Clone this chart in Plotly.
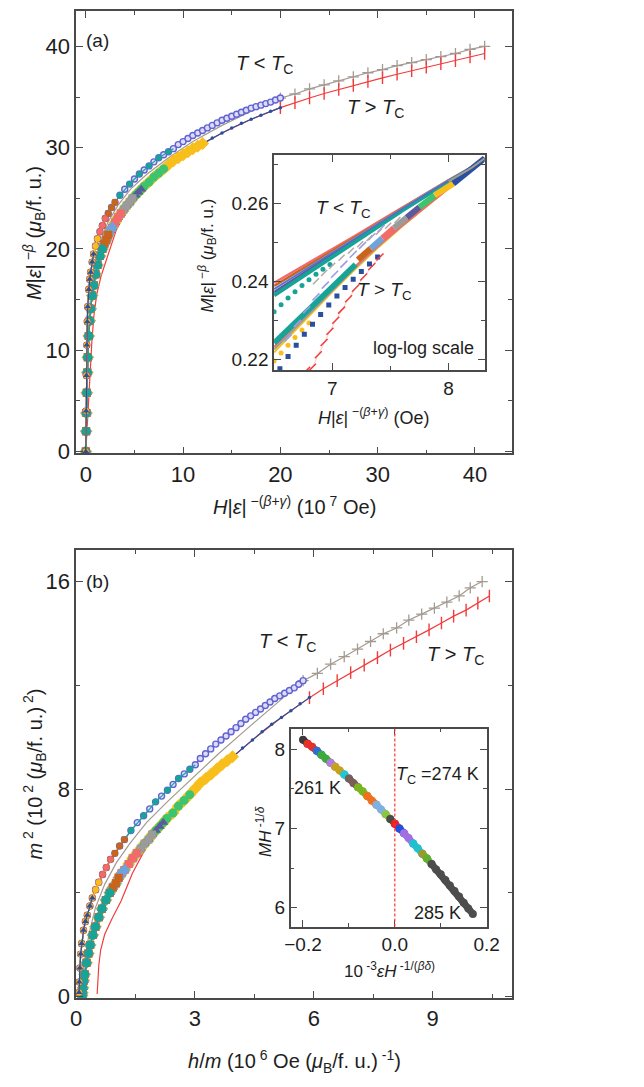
import plotly.graph_objects as go

W, H = 644, 1087
FONT = "Arial, Liberation Sans, sans-serif"
INK = "#1e1e1e"
AXC = "#4a4a4a"

# ---------------- Panel (a): M|e|^-beta vs H|e|^-(beta+gamma) (10^7 Oe) ----------------
# T < Tc branch (low/intermediate field part)
UP_X = [0, 0.03, 0.06, 0.1, 0.15, 0.2, 0.3, 0.4, 0.5, 0.65, 0.8, 1.0, 1.2, 1.45, 1.7, 2.0, 2.3, 2.65, 3.0, 3.5,
        4.0, 4.5, 5.0, 5.5, 6.0, 6.5, 7.0, 7.5, 8.0, 8.5, 9.0, 9.5, 10.0, 10.5, 11.0, 11.5, 12.0, 12.5, 13.0,
        13.5, 14.0, 14.5, 15.0, 15.5, 16.0, 16.5, 17.0, 17.5, 18.0, 18.5, 19.0, 19.5, 20.0]
UP_Y = [0, 4.0, 7.5, 10.5, 12.8, 14.3, 16.0, 17.0, 17.7, 18.7, 19.5, 20.3, 21.0, 21.7, 22.3, 23.0, 23.5, 24.1, 24.6, 25.3,
        25.9, 26.4, 26.9, 27.4, 27.8, 28.2, 28.6, 29.0, 29.3, 29.6, 29.9, 30.3, 30.6, 30.9, 31.2, 31.45, 31.7, 31.95, 32.2,
        32.45, 32.7, 32.9, 33.1, 33.3, 33.5, 33.7, 33.9, 34.05, 34.2, 34.35, 34.5, 34.7, 34.9]
# T > Tc branch
LOW_X = [0, 0.03, 0.06, 0.1, 0.15, 0.2, 0.3, 0.4, 0.5, 0.65, 0.8, 1.0, 1.2, 1.45, 1.7, 1.9, 2.1, 2.3, 2.5, 2.7,
         3.0, 3.3, 3.6, 3.9, 4.2, 4.5, 4.8, 5.1, 5.4, 5.7, 6.0, 6.5, 7.0, 7.5, 8.0, 8.5, 9.0, 9.5, 10.0, 10.5,
         11.0, 11.5, 12.0, 13, 14, 15, 16, 17, 18, 19, 20]
LOW_Y = [0, 2.0, 3.8, 5.8, 7.8, 9.3, 11.4, 12.9, 14.1, 15.4, 16.4, 17.5, 18.4, 19.3, 20.0, 20.5, 20.9, 21.4, 21.8, 22.1,
         22.6, 23.1, 23.5, 23.9, 24.3, 24.6, 25.0, 25.3, 25.6, 25.9, 26.2, 26.6, 27.1, 27.5, 27.9, 28.3, 28.7, 29.0, 29.3, 29.6,
         29.9, 30.15, 30.4, 30.95, 31.45, 31.95, 32.4, 32.8, 33.2, 33.6, 33.95]
# high-field part (only the two temperatures nearest Tc)
HI_X = [20, 21.5, 23, 24.5, 26, 27.5, 29, 30.5, 32, 33.5, 35, 36.5, 38, 39.5, 41]
HI_UP_Y = [34.9, 35.3, 35.8, 36.2, 36.6, 37.0, 37.4, 37.7, 38.1, 38.4, 38.7, 39.0, 39.3, 39.7, 40.0]
HI_LOW_Y = [33.95, 34.45, 34.9, 35.35, 35.75, 36.15, 36.55, 36.9, 37.25, 37.6, 37.95, 38.3, 38.6, 38.95, 39.3]
# low-field parts of those two temperatures
GRAY_LOW_X = [0, 0.1, 0.25, 0.5, 0.9, 1.5, 2.3, 3.3, 4.6, 6.3, 8.5, 11, 14, 17]
GRAY_LOW_Y = [0, 6.5, 11.5, 15.5, 18.5, 20.8, 22.7, 24.3, 25.9, 27.4, 29.0, 30.6, 32.2, 33.6]
RED_LOW_X = [0, 0.17, 0.43, 0.63, 0.83, 1.12, 1.56, 2.18, 3.1, 4.25, 5.9, 8.1, 10.8, 14.0, 17.0]
RED_LOW_Y = [0, 3.2, 7.8, 11.0, 13.4, 15.5, 17.3, 19.2, 21.8, 24.0, 25.95, 27.9, 29.7, 31.45, 32.8]

# field reach of every other temperature on its branch (10^7 Oe)
UP_TEMPS = ["271 K", "269 K", "267 K", "265 K", "263 K", "261 K"]
UP_XMAX = [20, 9, 3.0, 2.0, 1.2, 0.8]
LOW_TEMPS = ["276 K", "277 K", "278 K", "279 K", "280 K", "281 K", "282 K", "283 K", "285 K"]
LOW_XMAX = [20, 12, 8, 5.9, 4.8, 3.6, 2.8, 2.4, 1.8]

# ---------------- Inset (a): log-log ----------------
IA_X = [6.5, 6.8, 7.0, 7.2, 7.4, 7.6, 7.8, 8.0, 8.2, 8.31]
IA_UP = {
    "salmon": [0.2396, 0.2447, 0.2482, 0.2517, 0.2553, 0.2589, 0.2624, 0.2659, 0.2693, 0.2715],
    "orange": [0.2388, 0.2441, 0.2477, 0.2513, 0.2550, 0.2587, 0.2623, 0.2658, 0.2692, 0.2715],
    "lblue": [0.2380, 0.2435, 0.2473, 0.2510, 0.2548, 0.2586, 0.2622, 0.2657, 0.2692, 0.2715],
    "purple": [0.2372, 0.2429, 0.2468, 0.2506, 0.2545, 0.2584, 0.2621, 0.2656, 0.2691, 0.2715],
    "teal": [0.2364, 0.2422, 0.2462, 0.2501, 0.2541, 0.2581, 0.2619, 0.2655, 0.2690, 0.2715],
}
IA_LOW = {
    "yellow": [0.2218, 0.2311, 0.2373, 0.2432, 0.2488, 0.2540, 0.2589, 0.2638, 0.2684, 0.2715],
    "gray": [0.2226, 0.2317, 0.2378, 0.2436, 0.2491, 0.2542, 0.2590, 0.2639, 0.2685, 0.2715],
    "salmon": [0.2232, 0.2322, 0.2382, 0.2439, 0.2493, 0.2543, 0.2591, 0.2639, 0.2685, 0.2715],
    "teal": [0.2242, 0.2330, 0.2388, 0.2443, 0.2496, 0.2545, 0.2592, 0.2640, 0.2685, 0.2715],
}
IA_TAIL_X = [7.22, 7.33, 7.43, 7.53, 7.64, 7.75, 7.88, 8.04, 8.31]
IA_TAIL_Y = [0.2455, 0.2484, 0.2510, 0.2536, 0.2563, 0.2590, 0.2620, 0.2650, 0.2715]
IA_TEALDOT_X = [6.5, 6.56, 6.62, 6.68, 6.74, 6.8, 6.86, 6.92, 6.98]
IA_TEALDOT_Y = [0.2322, 0.2340, 0.2357, 0.2373, 0.2389, 0.2404, 0.2418, 0.2431, 0.2443]
IA_LAV_X = [6.62, 6.7, 6.78, 6.86, 6.94, 7.02, 7.1, 7.18, 7.26, 7.34, 7.42]
IA_LAV_Y = [0.2255, 0.2292, 0.2327, 0.2360, 0.2390, 0.2418, 0.2444, 0.2469, 0.2492, 0.2514, 0.2535]
IA_GRAYD_X = [6.86, 6.93, 7.0, 7.08, 7.16, 7.24, 7.32, 7.40, 7.48, 7.56]
IA_GRAYD_Y = [0.2400, 0.2421, 0.2440, 0.2460, 0.2478, 0.2495, 0.2511, 0.2527, 0.2542, 0.2557]
IA_YDOT_X = [6.5, 6.56, 6.62, 6.68, 6.74, 6.8]
IA_YDOT_Y = [0.2196, 0.2216, 0.2236, 0.2256, 0.2275, 0.2293]
IA_NAVY_X = [6.55, 6.62, 6.69, 6.76, 6.83, 6.9, 6.97, 7.04, 7.11, 7.18, 7.25, 7.32, 7.39]
IA_NAVY_Y = [0.2176, 0.2207, 0.2236, 0.2264, 0.2290, 0.2315, 0.2339, 0.2362, 0.2384, 0.2405, 0.2425, 0.2444, 0.2462]
IA_RED_X = [6.78, 6.83, 6.88, 6.93, 6.98, 7.03, 7.08, 7.14, 7.2, 7.27, 7.34, 7.41]
IA_RED_Y = [0.2172, 0.2180, 0.2212, 0.2243, 0.2272, 0.2300, 0.2326, 0.2355, 0.2382, 0.2411, 0.2438, 0.2462]

# ---------------- Inset (b): MH^-1/delta vs eps H^-1/(beta delta) ----------------
IB_X = [-0.20, -0.19, -0.18, -0.17, -0.16, -0.15, -0.14, -0.13, -0.12, -0.11, -0.10, -0.09, -0.08, -0.07,
        -0.06, -0.05, -0.04, -0.03, -0.02, -0.01, 0.00, 0.01, 0.02, 0.03, 0.04, 0.05, 0.06, 0.07, 0.08,
        0.09, 0.10, 0.11, 0.12, 0.13, 0.14, 0.15, 0.16, 0.17]
IB_Y = [8.12, 8.07, 8.03, 7.98, 7.93, 7.88, 7.83, 7.78, 7.73, 7.68, 7.63, 7.57, 7.52, 7.47,
        7.41, 7.35, 7.30, 7.24, 7.18, 7.12, 7.06, 7.00, 6.94, 6.88, 6.81, 6.75, 6.68, 6.62, 6.55,
        6.48, 6.42, 6.35, 6.28, 6.21, 6.14, 6.06, 5.99, 5.92]
IB_SEG_START = [0, 1, 3, 4, 6, 7, 9, 10, 12, 14, 16, 18, 19, 20, 21, 22, 24, 26, 27, 28]
IB_SEG_END = [1, 3, 4, 6, 7, 9, 10, 12, 14, 16, 18, 19, 20, 21, 22, 24, 26, 27, 28, 37]
IB_SEG_COLOR = ["#3a3a3a", "#e8302a", "#2a6fd6", "#3cab3c", "#b07ce0", "#c8a020", "#19c9d9", "#7a5c58",
                "#7ab51d", "#f07020", "#80b0e0", "#8cc63f", "#4a4a4a", "#ee2222", "#2050e0", "#a070e0",
                "#20c0d0", "#9a9a30", "#60b030", "#4d4d4d"]

# ---------------- styles ----------------
C = dict(gray="#a39a92", red="#f23c3c", circ="#6262d2", circfill="#dcdcf7", teal="#17a398",
         orange="#c8651b", salmon="#f46a6a", yellow="#f7be1c", navy="#2a4f9e", green="#3cc46e",
         purple="#5b5b9c", mgray="#9b9b9b", lblue="#6fa3dc")
UP_STYLE = [dict(color=C["circ"], symbol="circle", size=6, fill=C["circfill"], step=1, off=0, lw=1.4),
            dict(color=C["teal"], symbol="circle", size=6, step=2, off=1),
            dict(color=C["orange"], symbol="square", size=6, step=1, off=0),
            dict(color=C["salmon"], symbol="diamond", size=6, step=1, off=0),
            dict(color=C["yellow"], symbol="circle", size=6, step=1, off=0),
            dict(color=C["navy"], symbol="triangle-up", size=6, step=1, off=0)]
LOW_STYLE = [dict(color=C["navy"], symbol="circle", size=3.5),
             dict(color=C["yellow"], symbol="diamond", size=10),
             dict(color=C["green"], symbol="circle", size=9),
             dict(color=C["purple"], symbol="triangle-up", size=9),
             dict(color=C["mgray"], symbol="square", size=8),
             dict(color=C["salmon"], symbol="square", size=8),
             dict(color=C["lblue"], symbol="diamond", size=9),
             dict(color=C["orange"], symbol="square", size=8),
             dict(color=C["teal"], symbol="circle", size=9)]

fig = go.Figure()


def to_b(xa, ya):
    xb, yb = [], []
    for x, y in zip(xa, ya):
        if y > 0:
            xb.append(10.0 * x / y)
            yb.append((y / 10.0) ** 2)
    return xb, yb


def add(xs, ys, panel, **kw):
    if panel == "b":
        xs, ys = to_b(xs, ys)
        kw.update(xaxis="x3", yaxis="y3")
    else:
        kw.update(xaxis="x", yaxis="y")
    fig.add_trace(go.Scatter(x=xs, y=ys, showlegend=False, hoverinfo="skip", **kw))


def pick(xs, ys, xmax, step=1, off=0):
    idx = [i for i, x in enumerate(xs) if x <= xmax + 1e-9]
    return [xs[i] for i in idx], [ys[i] for i in idx], [xs[i] for i in idx[off::step]], [ys[i] for i in idx[off::step]]


for panel in ("a", "b"):
    # T < Tc nearest Tc (gray +)
    add(GRAY_LOW_X + HI_X, GRAY_LOW_Y + HI_UP_Y, panel, mode="lines", line=dict(color=C["gray"], width=1.2))
    add(HI_X, HI_UP_Y, panel, mode="markers",
        marker=dict(symbol="cross-thin", size=8, line=dict(color=C["gray"], width=1.3)))
    # T > Tc nearest Tc (red |)
    add(RED_LOW_X + HI_X, RED_LOW_Y + HI_LOW_Y, panel, mode="lines", line=dict(color=C["red"], width=1.2))
    add(HI_X, HI_LOW_Y, panel, mode="markers",
        marker=dict(symbol="line-ns", size=9, line=dict(color=C["red"], width=1.4)))
    # other T > Tc curves
    for xm, st in zip(LOW_XMAX, LOW_STYLE):
        lx, ly, mx, my = pick(LOW_X, LOW_Y, xm)
        add(lx, ly, panel, mode="lines", line=dict(color=st["color"], width=1.2))
        add(mx, my, panel, mode="markers",
            marker=dict(symbol=st["symbol"], size=st["size"], color=st["color"], line=dict(width=0)))
    # other T < Tc curves
    for xm, st in zip(UP_XMAX, UP_STYLE):
        lx, ly, mx, my = pick(UP_X, UP_Y, xm, st["step"], st["off"])
        add(lx, ly, panel, mode="lines", line=dict(color=st["color"], width=1.2))
        if "fill" in st:
            mk = dict(symbol=st["symbol"], size=st["size"], color=st["fill"],
                      line=dict(color=st["color"], width=st["lw"]))
        else:
            mk = dict(symbol=st["symbol"], size=st["size"], color=st["color"], line=dict(width=0))
        add(mx, my, panel, mode="markers", marker=mk)


# ---- inset (a) traces ----
def ia(xs, ys, **kw):
    fig.add_trace(go.Scatter(x=xs, y=ys, xaxis="x2", yaxis="y2", showlegend=False, hoverinfo="skip", **kw))


for key in ["salmon", "orange", "lblue", "purple"]:
    ia(IA_X, IA_UP[key], mode="lines", line=dict(color=C[key], width=2.4))
ia(IA_X, IA_UP["teal"], mode="lines", line=dict(color=C["teal"], width=4))
ia(IA_X, IA_UP["lblue"], mode="lines", line=dict(color=C["circ"], width=1.2))
for key in ["yellow", "gray", "salmon"]:
    ck = "mgray" if key == "gray" else key
    ia(IA_X, IA_LOW[key], mode="lines", line=dict(color=C[ck], width=2))
ia(IA_X[:4], IA_LOW["teal"][:4], mode="lines", line=dict(color=C["teal"], width=5.5))
ia(IA_TEALDOT_X, IA_TEALDOT_Y, mode="markers", marker=dict(color=C["teal"], size=5))
ia(IA_LAV_X, IA_LAV_Y, mode="markers",
   marker=dict(symbol="line-ne", size=7, line=dict(color="#9d9de8", width=1.6)))
ia(IA_GRAYD_X, IA_GRAYD_Y, mode="markers",
   marker=dict(symbol="line-ne", size=6, line=dict(color="#b0a8a0", width=1.4)))
ia(IA_YDOT_X, IA_YDOT_Y, mode="markers", marker=dict(color=C["yellow"], size=5))
ia(IA_NAVY_X, IA_NAVY_Y, mode="markers", marker=dict(symbol="square", color=C["navy"], size=5))
ia(IA_RED_X, IA_RED_Y, mode="lines+markers", line=dict(color="rgba(242,60,60,0.35)", width=0.8),
   marker=dict(symbol="line-ne", size=7, line=dict(color=C["red"], width=1.5)))
tail_cols = ["orange", "lblue", "salmon", "mgray", "purple", "green", "yellow", "navy"]
for i, ck in enumerate(tail_cols):
    ia(IA_TAIL_X[i:i + 2], IA_TAIL_Y[i:i + 2], mode="lines", line=dict(color=C[ck], width=6))
ia(IA_X[-3:], IA_UP["purple"][-3:], mode="lines", line=dict(color=C["gray"], width=2))

# ---- inset (b) traces ----
for s, e, col in zip(IB_SEG_START, IB_SEG_END, IB_SEG_COLOR):
    fig.add_trace(go.Scatter(x=IB_X[s:e + 1], y=IB_Y[s:e + 1], xaxis="x4", yaxis="y4", mode="lines+markers",
                             line=dict(color=col, width=7), marker=dict(color=col, size=8),
                             showlegend=False, hoverinfo="skip"))


# ---------------- axes ----------------
def axis(domain, rng, dtick, minor, anchor, fs, fmt=None):
    d = dict(domain=domain, range=rng, dtick=dtick, tick0=0, ticks="inside", ticklen=7, tickwidth=1.3,
             tickcolor=AXC, showline=True, linecolor=AXC, linewidth=1.6, mirror="ticks", showgrid=False,
             zeroline=False, anchor=anchor, tickfont=dict(family=FONT, size=fs, color=INK),
             minor=dict(dtick=minor, tick0=0, ticks="inside", ticklen=4, tickwidth=1.2, tickcolor=AXC,
                        showgrid=False))
    if fmt:
        d["tickformat"] = fmt
    return d


def dx(a, b):
    return [a / W, b / W]


def dy(top, bot):
    return [1 - bot / H, 1 - top / H]


fig.update_layout(
    width=W, height=H, margin=dict(l=0, r=0, t=0, b=0),
    paper_bgcolor="white", plot_bgcolor="white",
    xaxis=axis(dx(64, 513), [-1.0, 43.8], 10, 5, "y", 22),
    yaxis=axis(dy(3, 450), [-0.2, 43.5], 10, 5, "x", 22),
    xaxis2=axis(dx(268, 485), [6.5, 8.31], 1, 0.5, "y2", 19),
    yaxis2=axis(dy(149, 366), [0.2172, 0.2722], 0.02, 0.01, "x2", 19, ".2f"),
    xaxis3=axis(dx(64, 513), [0, 11.0], 3, 1.5, "y3", 22),
    yaxis3=axis(dy(548, 1000), [-0.05, 17.2], 8, 4, "x3", 22),
    xaxis4=axis(dx(285, 487), [-0.227, 0.2], 0.2, 0.1, "y4", 19, ".1f"),
    yaxis4=axis(dy(728, 928), [5.76, 8.26], 1, 0.5, "x4", 19),
)

fig.add_shape(type="line", xref="x4", yref="y4 domain", x0=0, x1=0, y0=0, y1=1,
              line=dict(color="#ff3030", width=1.2, dash="3px,2px"))


def ann(x, y, text, size, angle=0, xa="center"):
    fig.add_annotation(x=x / W, y=1 - y / H, xref="paper", yref="paper", text=text, showarrow=False,
                       textangle=angle, xanchor=xa, yanchor="middle",
                       font=dict(family=FONT, size=size, color=INK))


TLT = "<i>T</i> &lt; <i>T</i><sub>C</sub>"
TGT = "<i>T</i> &gt; <i>T</i><sub>C</sub>"
MEB = "<i>M</i>|<i>ε</i>|<sup> −<i>β</i></sup> (<i>μ</i><sub>B</sub>/f. u.)"
HEBG = "<i>H</i>|<i>ε</i>|<sup> −(<i>β</i>+<i>γ</i>)</sup>"

ann(86, 33, "(a)", 19)
ann(258, 57, TLT, 20)
ann(372, 102, TGT, 20)
ann(21, 227, MEB, 20, -90)
ann(289, 503, HEBG + " (10<sup> 7</sup> Oe)", 20)
ann(340, 203, TLT, 19)
ann(382, 286, TGT, 19)
ann(422, 343, "log-log scale", 18)
ann(199, 250, MEB, 17, -90)
ann(370, 413, HEBG + " (Oe)", 18)

ann(86, 579, "(b)", 19)
ann(282, 641, TLT, 20)
ann(455, 654, TGT, 20)
ann(21, 774, "<i>m</i><sup> 2</sup> (10<sup> 2</sup> (<i>μ</i><sub>B</sub>/f. u.)<sup> 2</sup>)", 20, -90)
ann(289, 1064, "<i>h</i>/<i>m</i> (10<sup> 6</sup> Oe (<i>μ</i><sub>B</sub>/f. u.)<sup> -1</sup>)", 20)
ann(436, 775, "<i>T</i><sub>C</sub> =274 K", 18)
ann(313, 788, "261 K", 18)
ann(436, 914, "285 K", 18)
ann(257, 832, "<i>MH</i><sup> -1/<i>δ</i></sup>", 17, -90)
ann(387, 972, "10<sup> -3</sup><i>εH</i><sup> -1/(<i>βδ</i>)</sup>", 17)

fig.write_html("out.html")
